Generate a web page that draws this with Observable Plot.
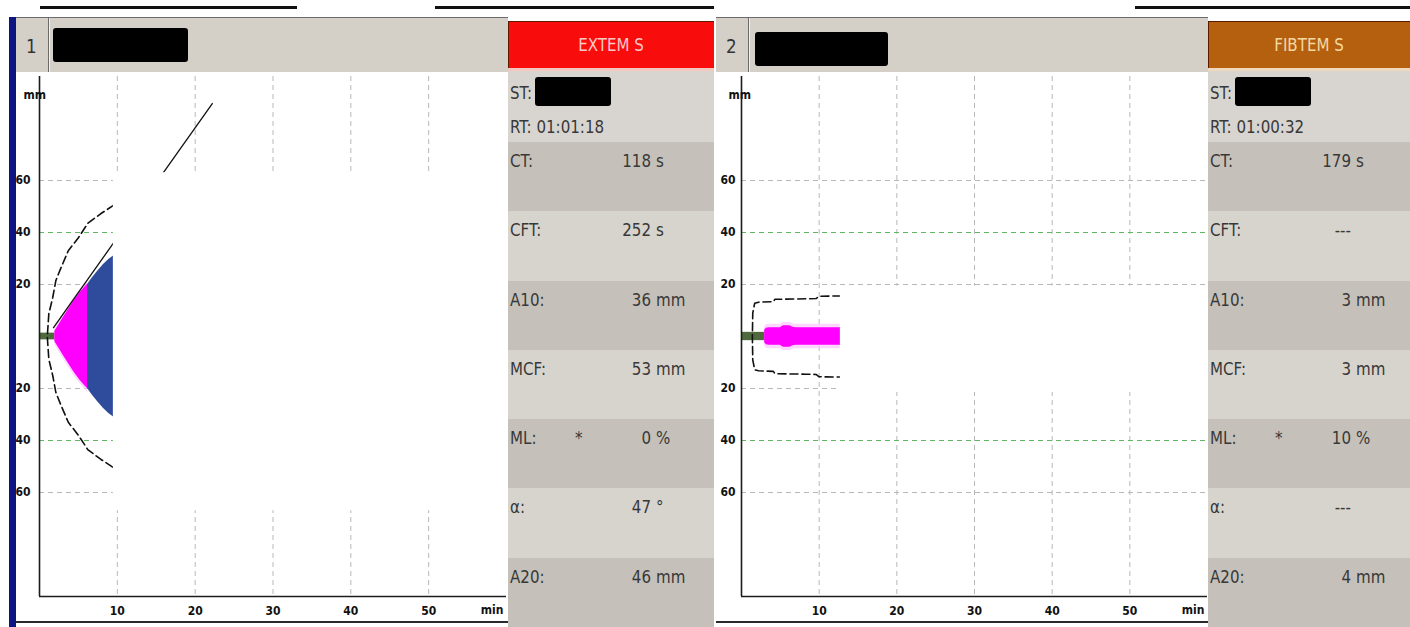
<!DOCTYPE html>
<html>
<head>
<meta charset="utf-8">
<script src="https://cdn.jsdelivr.net/npm/d3@7"></script>
<script src="https://cdn.jsdelivr.net/npm/@observablehq/plot@0.6"></script>
<style>
  body { margin: 0; background: #fff; }
  #screen { position: relative; width: 1410px; height: 627px; overflow: hidden; background: #fff;
            font-family: "DejaVu Sans Condensed", "DejaVu Sans", sans-serif; font-stretch: condensed; }
  .box { position: absolute; box-sizing: border-box; }
  .txt { position: absolute; white-space: nowrap; color: #383838; font-size: 18px; line-height: 20px;
         transform: scaleX(0.93); transform-origin: left center; }
  .txt.right { transform-origin: right center; }
  .chart { position: absolute; }
  .chart svg { overflow: visible; }
</style>
</head>
<body>
<div id="screen"></div>
<script>
// ---- time axis (min) and amplitude grid (mm) ----
const timeTicks = [10, 20, 30, 40, 50];
const levelTicks = [60, 40, 20, -20, -40, -60];
const grayLevels = [60, 20, -20, -60];
const greenLevels = [40, -40];

// ---- channel 1: EXTEM S ----
const extemName = "EXTEM S";
const extemRunTime = "01:01:18";
const extemBaseT = [0, 1.97];                       // until CT = 118 s
const extemBaseAmp = [1.3, 1.3];
const extemCoagT = [1.97, 2.5, 3.1, 3.7, 4.4, 5.2, 5.9, 6.17];   // CT .. CT+CFT
const extemCoagAmp = [2.0, 4.5, 7.5, 10.3, 13.6, 16.8, 19.2, 20.0];
const extemFirmT = [6.17, 6.8, 7.5, 8.2, 8.9, 9.6];
const extemFirmAmp = [20.0, 22.6, 25.2, 27.6, 29.6, 31.2];
const extemRefT = [1.0, 1.2, 1.7, 2.1, 2.7, 3.7, 5.0, 6.2, 7.9, 9.6];
const extemRefAmp = [0, 8.8, 15.0, 21.5, 26.0, 33.0, 38.0, 43.5, 47.3, 50.6];
const extemAlphaT = [1.8, 22.2];
const extemAlphaAmp = [3.4, 89.6];
const extemHidden = { t0: 9.49, t1: 60.3, low: -67, high: 63 };
const extemValues = ["118", "252", "36", "53", "0", "47", "46"];
const extemUnits = ["s", "s", "mm", "mm", "%", "°", "mm"];

// ---- channel 2: FIBTEM S ----
const fibtemName = "FIBTEM S";
const fibtemRunTime = "01:00:32";
const fibtemBaseT = [0, 2.98];                      // until CT = 179 s
const fibtemBaseAmp = [1.6, 1.6];
const fibtemCoagT = [2.98, 3.2, 3.6, 5.0, 5.4, 6.2, 6.7, 7.2, 12.8];
const fibtemCoagAmp = [2.4, 3.2, 3.4, 3.4, 4.1, 4.1, 3.5, 3.4, 3.4];
const fibtemRefT = [1.4, 1.45, 1.7, 2.2, 4.1, 4.3, 8.3, 9.6, 10.0, 12.8];
const fibtemRefAmp = [0, 9.0, 12.8, 13.2, 13.4, 14.3, 14.5, 14.6, 15.5, 15.6];
const fibtemHidden = { t0: 12.73, t1: 60.2, low: -21.5, high: 19.4 };
const fibtemValues = ["179", "---", "3", "3", "10", "---", "4"];
const fibtemUnits = ["s", "", "mm", "mm", "%", "", "mm"];

const paramLabels = ["CT:", "CFT:", "A10:", "MCF:", "ML:", "α:", "A20:"];
const starredParam = "ML:";

const screen = document.getElementById("screen");

function box(left, top, width, height, style = {}) {
  const d = document.createElement("div");
  d.className = "box";
  Object.assign(d.style, { left: left + "px", top: top + "px", width: width + "px", height: height + "px" }, style);
  screen.appendChild(d);
  return d;
}
function text(str, left, top, style = {}, cls = "") {
  const d = document.createElement("div");
  d.className = "txt " + cls;
  d.textContent = str;
  Object.assign(d.style, { left: left + "px", top: top + "px" }, style);
  screen.appendChild(d);
  return d;
}

// mirrored band rows (upper and lower half of the TEMogram)
const band = (ts, amps) => ts.map((t, i) => ({ t, lo: -amps[i], hi: amps[i] }));
const halo = (ts, amps, pad) => ts.map((t, i) => ({ t, lo: -amps[i] - pad, hi: amps[i] + pad }));
const outline = (ts, amps) =>
  ts.map((t, i) => ({ t, a: amps[i] })).reverse().concat(ts.map((t, i) => ({ t, a: -amps[i] })));

function traceChart(cfg) {
  const marks = [
    Plot.ruleX(timeTicks, { stroke: "#b8b8b8", strokeDasharray: "5,4" }),
    Plot.ruleY(grayLevels, { stroke: "#b8b8b8", strokeDasharray: "5,4" }),
    Plot.ruleY(greenLevels, { stroke: "#62b862", strokeDasharray: "5,4" }),
    Plot.areaY(halo(cfg.coagT, cfg.coagAmp, 1.3), { x: "t", y1: "lo", y2: "hi", fill: "#ffc4ff", fillOpacity: 0.7 }),
    Plot.areaY(band(cfg.baseT, cfg.baseAmp), { x: "t", y1: "lo", y2: "hi", fill: "#4f6b3d" }),
    Plot.areaY(band(cfg.coagT, cfg.coagAmp), { x: "t", y1: "lo", y2: "hi", fill: "#ff00ff" })
  ];
  if (cfg.firmT) {
    marks.push(Plot.areaY(band(cfg.firmT, cfg.firmAmp), { x: "t", y1: "lo", y2: "hi", fill: "#2f4b9b" }));
  }
  marks.push(Plot.line(outline(cfg.refT, cfg.refAmp),
    { x: "t", y: "a", stroke: "#111", strokeWidth: 1.6, strokeDasharray: "8,4" }));
  if (cfg.alphaT) {
    marks.push(Plot.line(cfg.alphaT.map((t, i) => ({ t, a: cfg.alphaAmp[i] })),
      { x: "t", y: "a", stroke: "#111", strokeWidth: 1.3 }));
  }
  marks.push(
    Plot.rect([cfg.hidden], { x1: "t0", x2: "t1", y1: "low", y2: "high", fill: "#fff" }),
    Plot.ruleX([0], { stroke: "#1c1c1c", strokeWidth: 1.6 }),
    Plot.ruleY([-100], { stroke: "#1c1c1c", strokeWidth: 1.6 }),
    Plot.axisY({ ticks: levelTicks, tickSize: 0, tickPadding: cfg.labelPad, tickFormat: d => Math.abs(d), label: null }),
    Plot.axisX({ ticks: timeTicks, tickSize: 0, tickPadding: 10, label: null }),
    Plot.text(["mm"], { text: d => d, frameAnchor: "top-left", dx: cfg.mmDx, dy: 14 }),
    Plot.text(["min"], { text: d => d, frameAnchor: "bottom-right", dx: -3, dy: 17, textAnchor: "end" })
  );
  const svg = Plot.plot({
    width: 492,
    height: 551,
    marginLeft: cfg.marginLeft,
    marginRight: cfg.marginRight,
    marginTop: 4,
    marginBottom: 27,
    x: { domain: [0, 60] },
    y: { domain: [-100, 100] },
    style: { fontFamily: "DejaVu Sans Condensed", fontStretch: "condensed", fontSize: "12px", fontWeight: "bold",
             color: "#111", background: "transparent" },
    marks
  });
  const holder = document.createElement("div");
  holder.className = "chart";
  holder.style.left = cfg.left + "px";
  holder.style.top = "72px";
  holder.appendChild(svg);
  screen.appendChild(holder);
}

function header(left, num, nameLeft, nameTop, nameW) {
  box(left, 17, 492, 55, { background: "#d4d0c8", borderTop: "1px solid #6c6c6c" });
  box(left + 32, 18, 1, 54, { background: "#6a6a6a" });
  box(left + 33, 18, 1, 54, { background: "#f4f2ee" });
  text(num, left + 10, 36, { fontSize: "20px", color: "#333" });
  box(nameLeft, nameTop, nameW, 34, { background: "#000", borderRadius: "3px" });
}

function infoPanel(left, width, name, bg, fg, strip, runTime, values, units) {
  box(left, 21, width, 47, { background: bg, borderTop: "1px solid #5a1a00", borderLeft: "1px solid #5a1a00" });
  text(name, left, 35, { width: width + "px", textAlign: "center", color: fg, fontSize: "18px", transformOrigin: "center" });
  box(left, 68, width, 3, { background: strip });
  box(left, 71, width, 71, { background: "#d8d5d0" });
  text("ST:", left + 2, 83);
  box(left + 27, 77, 76, 29, { background: "#000", borderRadius: "3px" });
  text("RT: " + runTime, left + 2, 117);
  const rowH = (627 - 142) / paramLabels.length;
  paramLabels.forEach((lab, i) => {
    const top = 142 + i * rowH;
    box(left, top, width, rowH + 0.5, { background: i % 2 === 0 ? "#c5c1ba" : "#d7d4ce" });
    text(lab, left + 2, top + 9);
    if (lab === starredParam) text("*", left + 67, top + 9);
    text(values[i], left, top + 9, { width: "143px", textAlign: "right" }, "right");
    if (units[i]) text(units[i], left + 148, top + 9);
  });
}

// window furniture
box(40, 6, 257, 3, { background: "#111" });
box(435, 6, 279, 3, { background: "#111" });
box(1135, 6, 275, 3, { background: "#111" });
box(9, 17, 7, 610, { background: "#0d1680" });

header(16, "1", 53, 28, 135);
header(716, "2", 755, 32, 133);

traceChart({
  left: 16, marginLeft: 23, marginRight: 2, labelPad: 9, mmDx: -16,
  baseT: extemBaseT, baseAmp: extemBaseAmp,
  coagT: extemCoagT, coagAmp: extemCoagAmp,
  firmT: extemFirmT, firmAmp: extemFirmAmp,
  refT: extemRefT, refAmp: extemRefAmp,
  alphaT: extemAlphaT, alphaAmp: extemAlphaAmp,
  hidden: extemHidden
});
traceChart({
  left: 716, marginLeft: 25, marginRight: 1, labelPad: 6, mmDx: -13,
  baseT: fibtemBaseT, baseAmp: fibtemBaseAmp,
  coagT: fibtemCoagT, coagAmp: fibtemCoagAmp,
  refT: fibtemRefT, refAmp: fibtemRefAmp,
  hidden: fibtemHidden
});

box(16, 621, 492, 2, { background: "#2a2a2a" });
box(716, 621, 492, 2, { background: "#2a2a2a" });

infoPanel(508, 206, extemName, "#f80c0c", "#ffc8c8", "#f3c6c0", extemRunTime, extemValues, extemUnits);
infoPanel(1208, 202, fibtemName, "#b4600f", "#f6d9a0", "#efd9bc", fibtemRunTime, fibtemValues, fibtemUnits);
</script>
</body>
</html>
